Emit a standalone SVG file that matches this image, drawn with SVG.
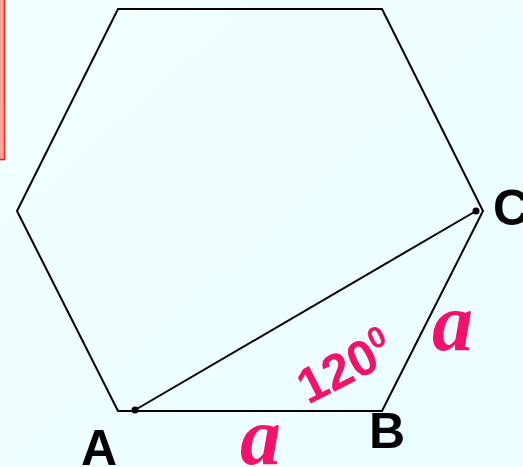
<svg xmlns="http://www.w3.org/2000/svg" width="523" height="467" viewBox="0 0 523 467">
<defs>
<linearGradient id="bg" x1="0" y1="0" x2="1" y2="1">
<stop offset="0" stop-color="#f0fffe"/>
<stop offset="1" stop-color="#eafefd"/>
</linearGradient>
<style>
.ln{fill:none;stroke:#000;stroke-width:2;stroke-linejoin:miter}
.lbl{font-family:"Liberation Sans",Arial,sans-serif;font-weight:bold;font-size:50px;fill:#000}
.var{font-family:"Liberation Serif","Times New Roman",serif;font-weight:bold;font-style:italic;font-size:82px;fill:#f5106c}
.ang{font-family:"Liberation Sans",Arial,sans-serif;font-weight:bold;fill:#f5106c}
</style>
</defs>
<rect width="523" height="467" fill="url(#bg)"/>
<rect x="-10" y="-10" width="14.5" height="169.5" fill="#f6a598" stroke="#ff2020" stroke-width="1.6"/>
<g id="hexagon">
<polygon class="ln" points="118,9 382,9 483,211 382,411 118,411 17,211"/>
</g>
<g id="connectors">
<line class="ln" x1="135" y1="410" x2="476" y2="211" stroke-width="1.6"/>
<circle cx="135" cy="410" r="3.5" fill="#000"/>
<circle cx="476" cy="211" r="3.5" fill="#000"/>
</g>
<g id="labels">
<text class="lbl" x="81" y="465">A</text>
<text class="lbl" x="369" y="448">B</text>
<text class="lbl" x="493" y="225">C</text>
<text class="var" x="240" y="464">a</text>
<text class="var" x="432" y="350">a</text>
<text class="ang" transform="translate(308,405) rotate(-27)" font-size="50">120<tspan font-size="30" dy="-19">0</tspan></text>
</g>
</svg>
